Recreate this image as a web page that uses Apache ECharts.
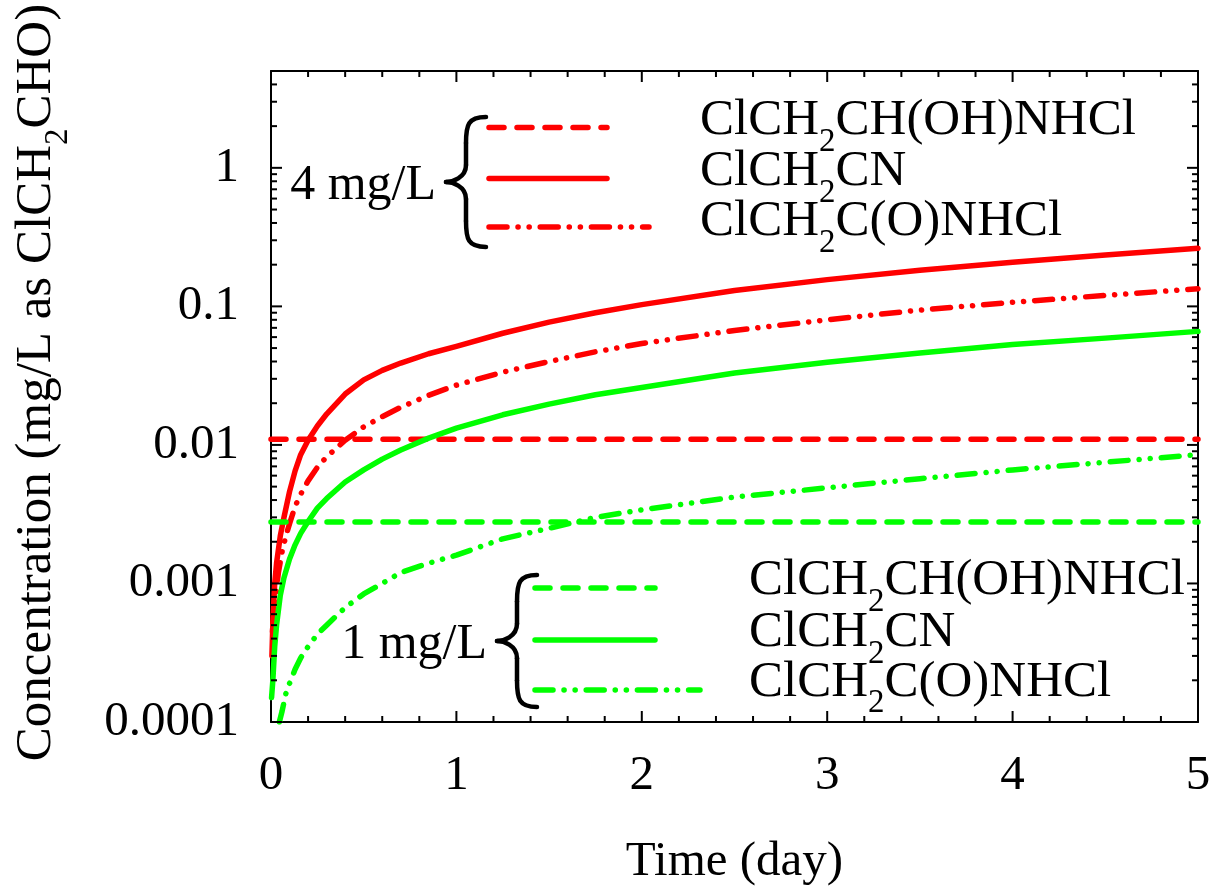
<!DOCTYPE html>
<html>
<head>
<meta charset="utf-8">
<script src="https://cdn.jsdelivr.net/npm/echarts@6/dist/echarts.min.js"></script>
<style>
  html, body { margin: 0; padding: 0; background: #fff; }
  #chart { width: 1214px; height: 886px; }
  #dbg { position: absolute; left: 2px; top: 870px; font: 11px sans-serif; color: #999; }
</style>
</head>
<body>
<div id="chart"></div>
<div id="dbg"></div>
<script>
// ---------------- data ----------------
const xTickLabels = ['0', '1', '2', '3', '4', '5'];
const yTickLabels = ['0.0001', '0.001', '0.01', '0.1', '1'];

// 4 mg/L initial ClCH2CHO
const red4_OH_t = [0, 5];
const red4_OH = [0.011, 0.011];
const red4_CN_t = [0.005, 0.01, 0.02, 0.03, 0.05, 0.07, 0.1, 0.13, 0.16, 0.2, 0.25, 0.3, 0.4, 0.5, 0.6, 0.7, 0.85, 1, 1.25, 1.5, 1.75, 2, 2.5, 3, 3.5, 4, 4.5, 5];
const red4_CN = [0.0003, 0.00052, 0.001, 0.0014, 0.0022, 0.003, 0.0046, 0.0065, 0.0085, 0.0108, 0.0137, 0.0167, 0.0233, 0.0295, 0.0345, 0.039, 0.0455, 0.0515, 0.064, 0.077, 0.09, 0.103, 0.13, 0.156, 0.182, 0.208, 0.235, 0.263];
const red4_AM_t = [0.008, 0.015, 0.025, 0.04, 0.06, 0.08, 0.1, 0.13, 0.16, 0.2, 0.25, 0.3, 0.4, 0.5, 0.6, 0.7, 0.85, 1, 1.25, 1.5, 1.75, 2, 2.5, 3, 3.5, 4, 4.5, 5];
const red4_AM = [0.00045, 0.0006, 0.0008, 0.0012, 0.0017, 0.0022, 0.0027, 0.0036, 0.0044, 0.0055, 0.0069, 0.0082, 0.0108, 0.0135, 0.016, 0.0187, 0.0228, 0.027, 0.0335, 0.040, 0.047, 0.054, 0.067, 0.080, 0.094, 0.107, 0.120, 0.134];

// 1 mg/L initial ClCH2CHO
const green1_OH_t = [0, 5];
const green1_OH = [0.00278, 0.00278];
const green1_CN_t = [0.003, 0.01, 0.02, 0.03, 0.05, 0.07, 0.1, 0.13, 0.16, 0.2, 0.25, 0.3, 0.4, 0.5, 0.6, 0.7, 0.85, 1, 1.25, 1.5, 1.75, 2, 2.5, 3, 3.5, 4, 4.5, 5];
const green1_CN = [0.00015, 0.0002, 0.00035, 0.0005, 0.00082, 0.0011, 0.0015, 0.0019, 0.0023, 0.0028, 0.0035, 0.0041, 0.0054, 0.0066, 0.0079, 0.0092, 0.0112, 0.0132, 0.0165, 0.0197, 0.023, 0.026, 0.033, 0.0395, 0.046, 0.053, 0.059, 0.066];
const green1_AM_t = [0.045, 0.06, 0.08, 0.1, 0.13, 0.16, 0.2, 0.25, 0.3, 0.4, 0.5, 0.6, 0.7, 0.85, 1, 1.25, 1.5, 1.75, 2, 2.5, 3, 3.5, 4, 4.5, 5];
const green1_AM = [0.0001, 0.00012, 0.00016, 0.00019, 0.00024, 0.00029, 0.00035, 0.00043, 0.0005, 0.00067, 0.00084, 0.001, 0.0012, 0.0014, 0.0016, 0.0021, 0.0025, 0.003, 0.0034, 0.0042, 0.0049, 0.0057, 0.0066, 0.0075, 0.0085];

const seriesNames = ['ClCH2CH(OH)NHCl', 'ClCH2CN', 'ClCH2C(O)NHCl'];
const legendTexts = ['{n|ClCH}{s|2}{n|CH(OH)NHCl}', '{n|ClCH}{s|2}{n|CN}', '{n|ClCH}{s|2}{n|C(O)NHCl}'];
const yAxisTitle = '{n|Concentration (mg/L as ClCH}{s|2}{n|CHO)}';
const xAxisTitle = 'Time (day)';

// tick positions
const xMajorTicks = [0, 1, 2, 3, 4, 5];
const xMinorTicks = [];
for (let i = 1; i < 25; i++) { if (i % 5 !== 0) xMinorTicks.push(i * 0.2); }
const yMajorTicks = [0.0001, 0.001, 0.01, 0.1, 1];
const yMinorTicks = [];
for (let k = -4; k <= 0; k++) {
  for (let m = 2; m <= 9; m++) {
    const v = m * Math.pow(10, k);
    if (v <= 5) yMinorTicks.push(v);
  }
}
const X_MIN = 0, X_MAX = 5, Y_MIN = 0.0001, Y_MAX = 5;

// ---------------- styles ----------------
const RED = '#ff0000';
const GREEN = '#00ff00';
const FONT = '"Liberation Serif", "Times New Roman", serif';
const LW = 5.5;
const DASH = [15, 13];
const DASHDOT2 = [18, 11, 0.1, 11, 0.1, 11];
const styleOf = {
  dashed: { type: DASH },
  solid: { type: 'solid' },
  dashdot: { type: DASHDOT2 }
};

function zip(t, v) { return t.map((x, i) => [x, v[i]]); }

function lineSeries(name, color, kind, t, v) {
  return {
    name: name,
    type: 'line',
    data: zip(t, v),
    symbol: 'none',
    smooth: false,
    clip: true,
    xAxisIndex: 0,
    yAxisIndex: 0,
    lineStyle: { color: color, width: LW, type: styleOf[kind].type, cap: 'round', join: 'round' },
    emphasis: { disabled: true },
    z: 3
  };
}

function richFor(size, sub) {
  return {
    n: { fontSize: size, fontFamily: FONT, fill: '#000', lineHeight: 58 },
    s: { fontSize: sub, fontFamily: FONT, fill: '#000', padding: [42, 0, 0, 0], lineHeight: 58 }
  };
}

// ---------------- chart ----------------
const chart = echarts.init(document.getElementById('chart'), null, { renderer: 'canvas' });

const axisBlack = { color: '#000', width: 2 };

const option = {
  animation: false,
  backgroundColor: '#fff',
  textStyle: { fontFamily: FONT, color: '#000' },
  grid: { left: 271, top: 71, right: 16, bottom: 164, containLabel: false, outerBoundsMode: 'none' },
  xAxis: [
    {
      type: 'value', min: X_MIN, max: X_MAX, interval: 1, position: 'bottom',
      axisLine: { show: true, onZero: false, lineStyle: axisBlack },
      axisTick: { show: false },
      splitLine: { show: false },
      axisLabel: {
        show: true, margin: 30, color: '#000', fontSize: 49, fontFamily: FONT,
        formatter: (v) => xTickLabels[Math.round(v)]
      },
      name: xAxisTitle, nameLocation: 'middle', nameGap: 116,
      nameTextStyle: { color: '#000', fontSize: 49, fontFamily: FONT }
    },
    {
      type: 'value', min: X_MIN, max: X_MAX, interval: 1, position: 'top',
      axisLine: { show: true, onZero: false, lineStyle: axisBlack },
      axisTick: { show: false },
      splitLine: { show: false },
      axisLabel: { show: false }
    }
  ],
  yAxis: [
    {
      type: 'log', logBase: 10, min: Y_MIN, max: Y_MAX, position: 'left',
      axisLine: { show: true, onZero: false, lineStyle: axisBlack },
      axisTick: { show: false },
      splitLine: { show: false },
      axisLabel: {
        show: true, margin: 32, color: '#000', fontSize: 49, fontFamily: FONT,
        showMaxLabel: false,
        formatter: (v) => {
          const e = Math.log10(v);
          const r = Math.round(e);
          if (Math.abs(e - r) > 1e-6) return '';
          return yTickLabels[r + 4] || '';
        }
      }
    },
    {
      type: 'log', logBase: 10, min: Y_MIN, max: Y_MAX, position: 'right',
      axisLine: { show: true, onZero: false, lineStyle: axisBlack },
      axisTick: { show: false },
      splitLine: { show: false },
      axisLabel: { show: false }
    }
  ],
  series: [
    lineSeries('4 mg/L ' + seriesNames[0], RED, 'dashed', red4_OH_t, red4_OH),
    lineSeries('4 mg/L ' + seriesNames[1], RED, 'solid', red4_CN_t, red4_CN),
    lineSeries('4 mg/L ' + seriesNames[2], RED, 'dashdot', red4_AM_t, red4_AM),
    lineSeries('1 mg/L ' + seriesNames[0], GREEN, 'dashed', green1_OH_t, green1_OH),
    lineSeries('1 mg/L ' + seriesNames[1], GREEN, 'solid', green1_CN_t, green1_CN),
    lineSeries('1 mg/L ' + seriesNames[2], GREEN, 'dashdot', green1_AM_t, green1_AM)
  ]
};

// ---------------- key (legend drawn as graphics) ----------------
function braceElements(xTip, yTop, yBot, xEnd) {
  const ym = (yTop + yBot) / 2;
  const xs = xTip + (xEnd - xTip) * 0.5;
  const h = yBot - yTop;
  const st = { fill: null, stroke: '#000', lineWidth: 4.5, lineCap: 'round' };
  return [
    { type: 'bezierCurve', shape: { x1: xEnd, y1: yTop, cpx1: xs + 2, cpy1: yTop, cpx2: xs, cpy2: yTop + h * 0.06, x2: xs, y2: yTop + h * 0.2 }, style: st },
    { type: 'line', shape: { x1: xs, y1: yTop + h * 0.2, x2: xs, y2: ym - h * 0.13 }, style: st },
    { type: 'bezierCurve', shape: { x1: xs, y1: ym - h * 0.13, cpx1: xs, cpy1: ym - h * 0.03, cpx2: xTip + 6, cpy2: ym, x2: xTip, y2: ym }, style: st },
    { type: 'bezierCurve', shape: { x1: xTip, y1: ym, cpx1: xTip + 6, cpy1: ym, cpx2: xs, cpy2: ym + h * 0.03, x2: xs, y2: ym + h * 0.13 }, style: st },
    { type: 'line', shape: { x1: xs, y1: ym + h * 0.13, x2: xs, y2: yBot - h * 0.2 }, style: st },
    { type: 'bezierCurve', shape: { x1: xs, y1: yBot - h * 0.2, cpx1: xs, cpy1: yBot - h * 0.06, cpx2: xs + 2, cpy2: yBot, x2: xEnd, y2: yBot }, style: st }
  ];
}

function keyBlock(cfg) {
  let els = [];
  els.push({
    type: 'text', x: cfg.labelRight, y: cfg.labelY,
    style: { text: cfg.label, fontSize: 50, fontFamily: FONT, fill: '#000', align: 'right', verticalAlign: 'middle' }
  });
  els = els.concat(braceElements(cfg.brace[0], cfg.brace[1], cfg.brace[2], cfg.brace[3]));
  const kinds = ['dashed', 'solid', 'dashdot'];
  for (let i = 0; i < 3; i++) {
    const st = styleOf[kinds[i]];
    els.push({
      type: 'line',
      shape: { x1: cfg.sampleX1, y1: cfg.sampleY[i], x2: cfg.sampleX2[i], y2: cfg.sampleY[i] },
      style: { stroke: cfg.color, lineWidth: LW, lineDash: Array.isArray(st.type) ? st.type : null, lineCap: 'round' }
    });
    els.push({
      type: 'text', x: cfg.textX, y: cfg.textY[i],
      style: {
        text: legendTexts[i], fontSize: 51, fontFamily: FONT, fill: '#000', lineHeight: 58,
        align: 'left', verticalAlign: 'middle', rich: richFor(51, 33)
      }
    });
  }
  return els;
}

const keyGraphics = [].concat(
  keyBlock({
    label: '4 mg/L', labelRight: 436, labelY: 186,
    brace: [446, 117, 247, 486],
    color: RED, sampleX1: 489, sampleX2: [607, 607, 649], sampleY: [127.5, 178.5, 227],
    textX: 700, textY: [121, 172, 222]
  }),
  keyBlock({
    label: '1 mg/L', labelRight: 487, labelY: 645,
    brace: [497, 575, 707, 537],
    color: GREEN, sampleX1: 535, sampleX2: [655, 655, 700], sampleY: [588, 640, 690],
    textX: 749, textY: [581, 633, 682.5]
  })
);

option.graphic = keyGraphics;

try {
  chart.setOption(option);

  // axis title (rotated) and tick marks, placed through the axes' own scales
  const px = (x, y) => chart.convertToPixel({ xAxisIndex: 0, yAxisIndex: 0 }, [x, y]);
  const tickStyle = { stroke: '#000', lineWidth: 2, fill: null };
  const ticks = [];
  function xTick(v, len) {
    const b = px(v, Y_MIN), t = px(v, Y_MAX);
    ticks.push({ type: 'rect', z: 50, silent: true, shape: { x: b[0] - 1, y: b[1] - len, width: 2, height: len }, style: { fill: '#000' } });
    ticks.push({ type: 'rect', z: 50, silent: true, shape: { x: t[0] - 1, y: t[1], width: 2, height: len }, style: { fill: '#000' } });
  }
  function yTick(v, len) {
    const l = px(X_MIN, v), r = px(X_MAX, v);
    ticks.push({ type: 'rect', z: 50, silent: true, shape: { x: l[0], y: l[1] - 1, width: len, height: 2 }, style: { fill: '#000' } });
    ticks.push({ type: 'rect', z: 50, silent: true, shape: { x: r[0] - len, y: r[1] - 1, width: len, height: 2 }, style: { fill: '#000' } });
  }
  xMajorTicks.forEach(v => xTick(v, 11));
  xMinorTicks.forEach(v => xTick(v, 6));
  yMajorTicks.forEach(v => yTick(v, 11));
  yMinorTicks.forEach(v => yTick(v, 6));

  const lt = px(X_MIN, Y_MAX), lb = px(X_MIN, Y_MIN);
  const title = {
    type: 'text', x: 37, y: (lt[1] + lb[1]) / 2 - 14, rotation: Math.PI / 2,
    style: {
      text: yAxisTitle, fontSize: 51, fontFamily: FONT, fill: '#000', lineHeight: 58,
      align: 'center', verticalAlign: 'middle', rich: richFor(51, 33)
    }
  };

  chart.setOption({ graphic: keyGraphics.concat([title]).concat(ticks) });
} catch (e) {
  document.getElementById('dbg').textContent = 'ERR ' + e.message;
}
</script>
</body>
</html>
